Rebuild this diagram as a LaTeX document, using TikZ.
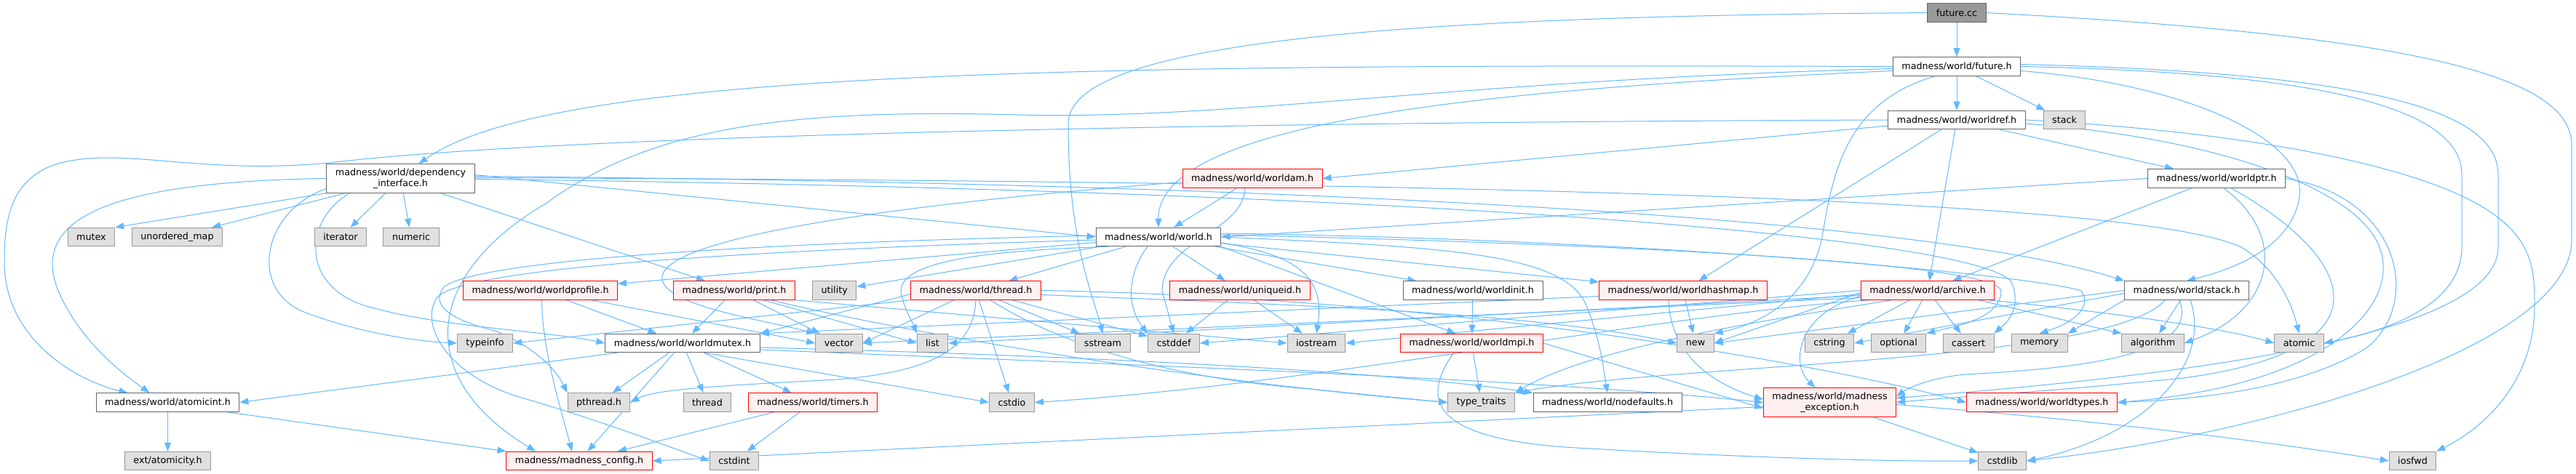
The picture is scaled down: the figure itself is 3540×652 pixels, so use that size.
\documentclass[tikz,border=0pt]{standalone}
\usepackage{fontspec}
\setmainfont{DejaVu Sans}
\usetikzlibrary{arrows.meta,backgrounds}
\definecolor{edgeblue}{HTML}{63B8FF}
\definecolor{boxline}{HTML}{666666}
\definecolor{sysline}{HTML}{999999}
\definecolor{sysfill}{HTML}{E0E0E0}
\definecolor{truncline}{HTML}{FF0000}
\definecolor{truncfill}{HTML}{FFF0F0}
\definecolor{rootfill}{HTML}{999999}

\begin{document}
\begin{tikzpicture}[
    x=1pt, y=-1pt,
    box/.style={rectangle, draw=#1, line width=1pt, minimum height=25.5pt,
      inner xsep=12pt, inner ysep=0pt, align=center,
      font=\fontsize{12.7}{15}\selectfont},
    hdr/.style={box=boxline, fill=white},
    trunc/.style={box=truncline, fill=truncfill},
    sys/.style={box=sysline, fill=sysfill},
    root/.style={box=boxline, fill=rootfill},
    tall/.style={minimum height=39.5pt},
    inc/.style={draw=edgeblue, line width=1pt, -{Triangle[length=12pt,width=9pt]}}
  ]
  \useasboundingbox (0,0) rectangle (3540,652);

  %% ===== top of the graph =====
  \node[root] (fcc)  at (2689,17.6) {future.cc};
  \node[hdr]  (futh) at (2689,91.5) {madness/world/future.h};
  \node[hdr]  (wref) at (2689,165)  {madness/world/worldref.h};
  \node[sys]  (stk)  at (2837,165)  {stack};

  \node[hdr, tall] (dep) at (550.5,245.5) {madness/world/dependency\\\_interface.h};
  \node[trunc] (wam)  at (1721,245.5) {madness/world/worldam.h};
  \node[hdr]   (wptr) at (3046,245.5) {madness/world/worldptr.h};

  \node[sys] (mtx)   at (125.5,326) {mutex};
  \node[sys] (umap)  at (243.5,326) {unordered\_map};
  \node[sys] (iter)  at (468,326)   {iterator};
  \node[sys] (numr)  at (565,326)   {numeric};
  \node[hdr] (world) at (1592,326)  {madness/world/world.h};

  %% ===== middle rows =====
  \node[trunc] (wprof)  at (742.5,399.5) {madness/world/worldprofile.h};
  \node[trunc] (prnt)   at (1009,399.5)  {madness/world/print.h};
  \node[sys]   (util)   at (1146.7,399.5) {utility};
  \node[trunc] (thrh)   at (1341,399.5)  {madness/world/thread.h};
  \node[trunc] (uniq)   at (1704,399.5)  {madness/world/uniqueid.h};
  \node[hdr]   (winit)  at (2024,399.5)  {madness/world/worldinit.h};
  \node[trunc] (whash)  at (2313,399.5)  {madness/world/worldhashmap.h};
  \node[trunc] (arch)   at (2649,399.5)  {madness/world/archive.h};
  \node[hdr]   (stackh) at (3005,399.5)  {madness/world/stack.h};

  \node[sys] (tinfo) at (666.5,472)  {typeinfo};
  \node[hdr] (wmtx)  at (938,472)    {madness/world/worldmutex.h};
  \node[sys] (vec)   at (1153,472)   {vector};
  \node[sys] (lst)   at (1281.5,472) {list};
  \node[sys] (sstr)  at (1515.5,472) {sstream};
  \node[sys] (cddef) at (1613,472)   {cstddef};
  \node[sys] (iostr) at (1809,472)   {iostream};
  \node[trunc] (wmpi) at (2022.5,472) {madness/world/worldmpi.h};
  \node[sys] (newh)  at (2330,472)   {new};
  \node[sys] (cstr)  at (2514,472)   {cstring};
  \node[sys] (opt)   at (2609,472)   {optional};
  \node[sys] (cass)  at (2705,472)   {cassert};
  \node[sys] (mem)   at (2802.6,472) {memory};
  \node[sys] (algo)  at (2958.5,472) {algorithm};
  \node[sys] (atom)  at (3159.5,472) {atomic};

  %% ===== bottom rows =====
  \node[hdr]   (aint)    at (230.5,553.5)  {madness/world/atomicint.h};
  \node[sys]   (pth)     at (823,553.5)    {pthread.h};
  \node[sys]   (thrd)    at (972,553.5)    {thread};
  \node[trunc] (tmr)     at (1117,553.5)   {madness/world/timers.h};
  \node[sys]   (cstdio)  at (1390.5,553.5) {cstdio};
  \node[sys]   (ttraits) at (2035.5,553.5) {type\_traits};
  \node[hdr]   (nodef)   at (2209,553.5)   {madness/world/nodefaults.h};
  \node[trunc, tall] (mexc) at (2514.5,553.5) {madness/world/madness\\\_exception.h};
  \node[trunc] (wtyp)    at (2806,553.5)   {madness/world/worldtypes.h};

  \node[sys]   (atcity) at (230.5,634)  {ext/atomicity.h};
  \node[trunc] (cfg)    at (796,634)    {madness/madness\_config.h};
  \node[sys]   (cint)   at (1009,634)   {cstdint};
  \node[sys]   (cstdl)  at (2751.7,634) {cstdlib};
  \node[sys]   (iosfwd) at (3315.5,634) {iosfwd};

  %% ===== include edges, behind the boxes =====
  \begin{scope}[on background layer]
    \fill[white] (0,0) rectangle (3540,652);

    % future.cc
    \draw[inc] (fcc) -- (futh);
    \draw[inc] (fcc.west) .. controls (1900,22) and (1468,60) .. (1468,170)
      .. controls (1468,330) and (1500,400) .. (sstr.north);
    \draw[inc] (fcc.east) .. controls (3350,50) and (3534,110) .. (3534,200)
      -- (3534,330) .. controls (3534,480) and (3100,600) .. (cstdl.east);

    % future.h
    \draw[inc] (futh) -- (wref);
    \draw[inc] (futh) -- (stk);
    \draw[inc] (futh.west) .. controls (1500,88) and (760,95) .. ([xshift=25pt]dep.north);
    \draw[inc] ([yshift=-6pt]futh.west) .. controls (2100,120) and (1590,160) .. (world.north);
    \draw[inc] ([yshift=-3pt]futh.west) .. controls (2000,110) and (1700,165) .. (1400,158)
      .. controls (1100,150) and (900,170) .. (750,280)
      .. controls (580,380) and (570,520) .. ([xshift=-60pt]cfg.north);
    \draw[inc] ([xshift=-30pt]futh.south) .. controls (2540,140) and (2520,230) .. (2505,320)
      .. controls (2490,410) and (2420,445) .. (newh.north east);
    \draw[inc] ([yshift=-6pt]futh.east) .. controls (3000,115) and (3170,190) .. (3160,270)
      .. controls (3150,340) and (3070,370) .. (stackh.north);
    \draw[inc] (futh.east) .. controls (3200,100) and (3383,150) .. (3383,240)
      -- (3383,340) .. controls (3383,420) and (3280,455) .. (atom.east);
    \draw[inc] ([yshift=3pt]futh.east) .. controls (3250,100) and (3433,150) .. (3433,240)
      -- (3433,340) .. controls (3433,470) and (2950,520) .. ([yshift=6pt]mexc.east);

    % worldref.h
    \draw[inc] (wref.west) .. controls (1700,168) and (800,185) .. (470,222)
      .. controls (280,244) and (170,200) .. (80,225)
      .. controls (15,245) and (6,300) .. (6,360)
      .. controls (6,470) and (110,525) .. ([xshift=-55pt]aint.north);
    \draw[inc] ([yshift=-8pt]wref.west) -- (wam.east);
    \draw[inc] (wref) -- (wptr);
    \draw[inc] (wref) -- (whash);
    \draw[inc] (wref) -- (arch);
    \draw[inc] (wref.east) .. controls (3100,182) and (3330,230) .. (3420,290)
      .. controls (3480,330) and (3483,370) .. (3483,420)
      .. controls (3483,520) and (3420,585) .. (iosfwd.north east);
    \draw[inc] ([yshift=-5pt]wref.east) .. controls (3050,190) and (3240,260) .. (3270,340)
      .. controls (3300,420) and (3200,530) .. (wtyp.east);

    % dependency_interface.h
    \draw[inc] (dep.south west) -- (mtx.north east);
    \draw[inc] ([xshift=26pt]dep.south west) -- ([xshift=-15pt]umap.north east);
    \draw[inc] (dep) -- (iter);
    \draw[inc] (dep) -- (numr);
    \draw[inc] (dep.west) .. controls (150,250) and (40,300) .. (80,400)
      .. controls (110,470) and (170,515) .. ([xshift=-25pt]aint.north);
    \draw[inc] ([yshift=-14pt]dep.west) .. controls (360,290) and (340,400) .. (420,430)
      .. controls (500,460) and (580,470) .. (tinfo.west);
    \draw[inc] ([xshift=-70pt]dep.south) .. controls (420,300) and (410,390) .. (500,420)
      .. controls (600,450) and (750,455) .. (wmtx.west);
    \draw[inc] ([xshift=55pt]dep.south) -- ([xshift=-40pt]prnt.north);
    \draw[inc] ([yshift=5pt]dep.east) -- (world.west);
    \draw[inc] ([yshift=3pt]dep.east) .. controls (1800,252) and (2650,300) .. (stackh.north west);
    \draw[inc] ([yshift=1pt]dep.east) .. controls (2200,250) and (2950,280) .. (3080,340)
      .. controls (3130,370) and (3150,420) .. (atom.north);
    \draw[inc] ([yshift=-1pt]dep.east) .. controls (2000,262) and (2740,330) .. (2765,390)
      .. controls (2780,430) and (2750,450) .. (cass.north east);

    % worldam.h
    \draw[inc] (wam) -- (world);
    \draw[inc] ([xshift=-10pt]wam.south) .. controls (1708,320) and (1598,330) .. (1597,400)
      -- (cddef.north);
    \draw[inc] ([yshift=-5pt]wam.west) .. controls (1300,275) and (920,320) .. (910,380)
      .. controls (905,420) and (1050,440) .. (vec.north west);

    % world.h
    \draw[inc] (world) -- (wprof);
    \draw[inc] (world) -- (util);
    \draw[inc] (world) -- (thrh);
    \draw[inc] (world) -- (uniq);
    \draw[inc] (world) -- (winit);
    \draw[inc] (world) -- (whash);
    \draw[inc] (world.south east) -- ([xshift=-22pt]wmpi.north);
    \draw[inc] ([yshift=-8pt]world.east) .. controls (1780,350) and (1822,380) .. (iostr.north);
    \draw[inc] ([xshift=-70pt]world.south) .. controls (1350,345) and (1220,360) .. (1240,410)
      .. controls (1245,430) and (1255,445) .. (lst.north west);
    \draw[inc] ([xshift=-15pt]world.south) .. controls (1560,360) and (1540,410) .. (cddef.north west);
    \draw[inc] (world.east) .. controls (2000,340) and (2150,350) .. (2180,420)
      .. controls (2200,470) and (2204,510) .. (nodef.north);
    \draw[inc] ([yshift=3pt]world.east) .. controls (2200,335) and (2740,360) .. (2750,400)
      .. controls (2750,440) and (2680,450) .. (opt.north east);
    \draw[inc] ([yshift=5pt]world.east) .. controls (2300,330) and (2800,380) .. (2860,400)
      .. controls (2880,430) and (2830,450) .. (mem.north);
    \draw[inc] ([yshift=-4pt]world.west) .. controls (1000,345) and (630,370) .. (600,410)
      .. controls (575,450) and (620,520) .. (720,548)
      .. controls (830,580) and (920,615) .. (cint.west);
    \draw[inc] ([yshift=2pt]world.west) .. controls (1000,335) and (650,360) .. (610,395)
      .. controls (590,420) and (620,440) .. (680,455)
      .. controls (720,470) and (760,500) .. (pth.north west);

    % thread.h
    \draw[inc] (thrh.south west) -- (tinfo.east);
    \draw[inc] ([yshift=-5pt]thrh.west) -- (wmtx.north east);
    \draw[inc] ([xshift=-30pt]thrh.south) -- (vec.east);
    \draw[inc] (thrh.south) .. controls (1338,470) and (1300,510) .. (1150,522)
      .. controls (1000,530) and (900,535) .. (pth.east);
    \draw[inc] (thrh) -- (cstdio);
    \draw[inc] (thrh) -- (sstr);
    \draw[inc] (thrh) -- (cddef);
    \draw[inc] ([xshift=20pt]thrh.south) .. controls (1450,470) and (1600,520) .. (1800,535)
      .. controls (1900,545) and (1950,550) .. (ttraits.west);
    \draw[inc] ([yshift=-6pt]thrh.east) .. controls (1800,420) and (2100,430) .. (newh.west);
    \draw[inc] (thrh.east) .. controls (2000,410) and (2500,500) .. (wtyp.west);

    % uniqueid.h, worldinit.h, worldmpi.h
    \draw[inc] (uniq) -- (cddef);
    \draw[inc] (uniq) -- (iostr);
    \draw[inc] (winit) -- (wmpi);
    \draw[inc] (wmpi) -- (ttraits);
    \draw[inc] ([xshift=-25pt]wmpi.south) .. controls (1960,540) and (1950,600) .. (2150,615)
      .. controls (2400,630) and (2600,635) .. (cstdl.west);
    \draw[inc] (wmpi.east) -- ([yshift=-8pt]mexc.west);

    % worldhashmap.h
    \draw[inc] (whash) -- (newh);
    \draw[inc] ([xshift=-20pt]whash.south) .. controls (2295,470) and (2330,520) .. ([yshift=4pt]mexc.west);
    \draw[inc] ([yshift=-8pt]whash.west) -- (wmtx.north east);

    % archive.h
    \draw[inc] (arch) -- (cstr);
    \draw[inc] (arch) -- (opt);
    \draw[inc] (arch) -- (cass);
    \draw[inc] ([xshift=70pt]arch.south) -- (algo.north west);
    \draw[inc] ([xshift=85pt]arch.south) .. controls (2900,430) and (3050,450) .. (atom.west);
    \draw[inc] ([yshift=-8pt]arch.west) .. controls (2470,430) and (2460,500) .. ([xshift=-20pt]mexc.north);
    \draw[inc] ([yshift=-3pt]arch.west) -- (newh.east);
    \draw[inc] ([yshift=-5pt]arch.west) -- (iostr.east);
    \draw[inc] (arch.west) -- (cddef.east);
    \draw[inc] ([yshift=-7pt]arch.west) -- (lst.east);
    \draw[inc] ([yshift=-10pt]arch.west) -- (vec.east);
    \draw[inc] ([xshift=-50pt]arch.south) .. controls (2500,430) and (2200,470) .. (ttraits.north east);
    \draw[inc] ([xshift=-80pt]arch.south) .. controls (2300,430) and (1800,530) .. (cstdio.east);

    % stack.h
    \draw[inc] (stackh) -- (algo);
    \draw[inc] (stackh.south west) -- (mem.north east);
    \draw[inc] ([yshift=-4pt]stackh.west) -- (cstr.east);
    \draw[inc] (stackh.west) -- (newh.east);
    \draw[inc] ([xshift=-30pt]stackh.south) .. controls (2900,500) and (2300,500) .. (ttraits.north east);
    \draw[inc] ([xshift=-10pt]stackh.south) .. controls (3020,480) and (2900,505) .. (2700,515)
      .. controls (2650,520) and (2620,535) .. ([yshift=8pt]mexc.east);
    \draw[inc] ([xshift=5pt]stackh.south) .. controls (3040,500) and (2950,600) .. (cstdl.east);

    % worldptr.h
    \draw[inc] (wptr.west) -- (world.east);
    \draw[inc] (wptr) -- (arch);
    \draw[inc] ([xshift=10pt]wptr.south) .. controls (3150,330) and (3120,430) .. (algo.east);
    \draw[inc] ([xshift=20pt]wptr.south) .. controls (3230,350) and (3300,480) .. (3000,520)
      .. controls (2800,540) and (2700,545) .. (mexc.east);
    \draw[inc] (wptr.east) .. controls (3300,270) and (3330,420) .. (3250,480)
      .. controls (3150,540) and (3000,550) .. (wtyp.east);

    % worldprofile.h, print.h
    \draw[inc] ([xshift=2pt]wprof.south) .. controls (745,480) and (770,560) .. ([xshift=-10pt]cfg.north);
    \draw[inc] (wprof) -- (wmtx);
    \draw[inc] ([xshift=70pt]wprof.south) -- (vec.west);
    \draw[inc] (prnt) -- (wmtx);
    \draw[inc] (prnt) -- (vec);
    \draw[inc] ([xshift=40pt]prnt.south) -- (lst.west);
    \draw[inc] (prnt.south east) -- (iostr.west);
    \draw[inc] ([xshift=50pt]prnt.south) .. controls (1300,470) and (1700,530) .. (ttraits.west);

    % worldmutex.h
    \draw[inc] (wmtx) -- (pth);
    \draw[inc] (wmtx) -- (thrd);
    \draw[inc] (wmtx) -- (tmr);
    \draw[inc] (wmtx) -- (cfg);
    \draw[inc] ([xshift=-90pt]wmtx.south) -- (aint.east);
    \draw[inc] ([xshift=30pt]wmtx.south) -- (cstdio.west);
    \draw[inc] ([yshift=-6pt]wmtx.east) .. controls (1500,490) and (1900,510) .. (nodef.north west);
    \draw[inc] ([yshift=-9pt]wmtx.east) .. controls (1500,500) and (2100,520) .. (mexc.west);

    % timers.h, atomicint.h, madness_exception.h
    \draw[inc] (tmr) -- (cfg);
    \draw[inc] (tmr) -- (cint);
    \draw[inc] (aint) -- (atcity);
    \draw[inc] ([xshift=82pt]aint.south) -- (cfg.north west);
    \draw[inc] ([yshift=-6pt]mexc.west) -- (cfg.east);
    \draw[inc] (mexc) -- (cstdl);
    \draw[inc] ([yshift=-3pt]mexc.east) .. controls (2900,580) and (3100,605) .. (iosfwd.west);
  \end{scope}
\end{tikzpicture}
\end{document}
